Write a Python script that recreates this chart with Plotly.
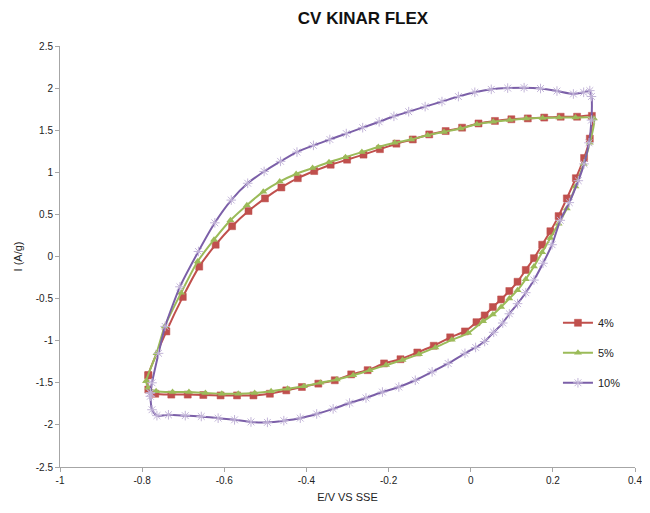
import plotly.graph_objects as go

# 4% series (E in V, I in A/g)
e_4 = [-0.785, -0.741, -0.701, -0.661, -0.621, -0.581, -0.541, -0.501, -0.461, -0.421,
       -0.381, -0.341, -0.301, -0.261, -0.221, -0.181, -0.141, -0.101, -0.061, -0.021,
       0.019, 0.059, 0.099, 0.139, 0.179, 0.219, 0.259, 0.295,
       0.29, 0.276, 0.256, 0.234, 0.214, 0.194, 0.174, 0.154, 0.134, 0.114, 0.094, 0.074,
       0.054, 0.034, 0.014, -0.014, -0.05, -0.09, -0.13, -0.171, -0.211, -0.251, -0.291,
       -0.331, -0.371, -0.411, -0.449, -0.489, -0.529, -0.569, -0.609, -0.651, -0.689,
       -0.729, -0.768, -0.785, -0.785]
i_4 = [-1.41, -0.89, -0.48, -0.12, 0.14, 0.36, 0.54, 0.69, 0.82, 0.93,
       1.015, 1.09, 1.15, 1.21, 1.275, 1.34, 1.39, 1.45, 1.49, 1.53,
       1.58, 1.61, 1.63, 1.64, 1.65, 1.66, 1.66, 1.67,
       1.40, 1.17, 0.93, 0.69, 0.48, 0.30, 0.14, -0.02, -0.16, -0.30, -0.41, -0.51,
       -0.60, -0.70, -0.78, -0.89, -0.96, -1.06, -1.14, -1.22, -1.27, -1.35, -1.40,
       -1.47, -1.51, -1.55, -1.59, -1.63, -1.65, -1.65, -1.65, -1.645, -1.64,
       -1.64, -1.63, -1.58, -1.41]

# 5% series
e_5 = [-0.79, -0.765, -0.745, -0.705, -0.665, -0.625, -0.585, -0.545, -0.505, -0.465,
       -0.425, -0.385, -0.345, -0.305, -0.265, -0.225, -0.185, -0.145, -0.105, -0.065,
       -0.025, 0.015, 0.055, 0.095, 0.135, 0.175, 0.215, 0.255, 0.3,
       0.29, 0.275, 0.255, 0.234, 0.214, 0.194, 0.174, 0.154, 0.134, 0.114, 0.094, 0.074,
       0.054, 0.03, -0.006, -0.046, -0.086, -0.126, -0.166, -0.206, -0.246, -0.286,
       -0.326, -0.366, -0.406, -0.446, -0.486, -0.526, -0.566, -0.606, -0.646, -0.686,
       -0.726, -0.766, -0.785, -0.79]
i_5 = [-1.48, -1.15, -0.83, -0.43, -0.06, 0.20, 0.43, 0.61, 0.77, 0.89,
       0.98, 1.05, 1.12, 1.18, 1.24, 1.30, 1.35, 1.39, 1.44, 1.48,
       1.52, 1.57, 1.60, 1.62, 1.64, 1.645, 1.65, 1.65, 1.64,
       1.35, 1.10, 0.83, 0.57, 0.39, 0.22, 0.05, -0.12, -0.27, -0.40, -0.50, -0.60,
       -0.69, -0.77, -0.91, -0.99, -1.08, -1.16, -1.23, -1.29, -1.35, -1.41,
       -1.46, -1.50, -1.54, -1.57, -1.60, -1.62, -1.63, -1.63, -1.62, -1.61,
       -1.61, -1.60, -1.56, -1.48]

# 10% series
e_10 = [-0.78, -0.776, -0.76, -0.744, -0.708, -0.663, -0.623, -0.583, -0.543, -0.503,
        -0.463, -0.423, -0.383, -0.343, -0.303, -0.263, -0.223, -0.187, -0.151, -0.111,
        -0.07, -0.03, 0.01, 0.05, 0.09, 0.13, 0.17, 0.21, 0.25, 0.275, 0.29, 0.294,
        0.294, 0.288, 0.276, 0.262, 0.24, 0.218, 0.198, 0.176, 0.154, 0.134, 0.114,
        0.094, 0.078, 0.056, 0.034, 0.012, -0.014, -0.055, -0.094, -0.135, -0.175,
        -0.215, -0.255, -0.295, -0.335, -0.375, -0.415, -0.455, -0.495, -0.535, -0.575,
        -0.615, -0.656, -0.695, -0.736, -0.764, -0.776, -0.78, -0.78]
i_10 = [-1.62, -1.50, -1.15, -0.83, -0.36, 0.06, 0.40, 0.67, 0.87, 1.01,
        1.13, 1.24, 1.32, 1.39, 1.46, 1.53, 1.60, 1.665, 1.72, 1.78,
        1.84, 1.90, 1.95, 1.985, 2.00, 2.005, 1.995, 1.965, 1.93, 1.95, 1.97, 1.90,
        1.62, 1.35, 1.10, 0.90, 0.64, 0.43, 0.14, -0.08, -0.28, -0.43, -0.56,
        -0.68, -0.79, -0.90, -1.01, -1.08, -1.15, -1.27, -1.37, -1.47, -1.55,
        -1.61, -1.68, -1.74, -1.81, -1.87, -1.92, -1.95, -1.97, -1.965, -1.94,
        -1.92, -1.90, -1.89, -1.88, -1.89, -1.82, -1.66, -1.62]

y_ticks = [-2.5, -2, -1.5, -1, -0.5, 0, 0.5, 1, 1.5, 2, 2.5]
y_ticktext = ["-2.5", "-2", "-1.5", "-1", "-0.5", "0", "0.5", "1", "1.5", "2", "2.5"]
x_ticks = [-1, -0.8, -0.6, -0.4, -0.2, 0, 0.2, 0.4]
x_ticktext = ["-1", "-0.8", "-0.6", "-0.4", "-0.2", "0", "0.2", "0.4"]

fig = go.Figure()
fig.add_trace(go.Scatter(
    x=e_4, y=i_4, name="4%", mode="lines+markers", legendgroup="a",
    line=dict(color="#C0504D", width=2, shape="spline", smoothing=0.6),
    marker=dict(symbol="square", size=7, color="#C0504D",
                line=dict(color="rgba(192,80,77,0.5)", width=1))))
fig.add_trace(go.Scatter(
    x=e_5, y=i_5, name="5%", mode="lines+markers", legendgroup="b",
    line=dict(color="#9BBB59", width=2, shape="spline", smoothing=0.6),
    marker=dict(symbol="triangle-up", size=7, color="#9BBB59")))
fig.add_trace(go.Scatter(
    x=e_10, y=i_10, name="10%", mode="lines+markers", legendgroup="c",
    line=dict(color="#7B5FA8", width=2, shape="spline", smoothing=0.6),
    marker=dict(symbol="asterisk-open", size=8, color="#C2B4D8",
                line=dict(color="#C2B4D8", width=1))))

fig.update_layout(
    width=642, height=505,
    margin=dict(l=52, r=8, t=38, b=46),
    paper_bgcolor="white", plot_bgcolor="white",
    font=dict(family="Liberation Sans, Arial, sans-serif", size=10, color="#222222"),
    title=dict(text="<b>CV KINAR FLEX</b>", x=(363 - 8) / 642, xanchor="center",
               y=1 - 10 / 505, yref="container", yanchor="middle",
               font=dict(size=17, color="#111111", family="Liberation Sans, Arial")),
    showlegend=True,
    legend=dict(x=0.866, xanchor="left", y=0.377, yanchor="top",
                font=dict(size=11, color="#222222"), tracegroupgap=11,
                bgcolor="rgba(0,0,0,0)", itemwidth=30),
    xaxis=dict(range=[-1, 0.4], tickvals=x_ticks, ticktext=x_ticktext,
               showgrid=False, zeroline=False, showline=True, linecolor="#A6A6A6",
               linewidth=1, ticks="outside", ticklen=4, tickcolor="#A6A6A6",
               title=dict(text="E/V VS SSE", font=dict(size=11), standoff=8)),
    yaxis=dict(range=[-2.5, 2.5], tickvals=y_ticks, ticktext=y_ticktext,
               showgrid=False, zeroline=False, showline=True, linecolor="#A6A6A6",
               linewidth=1, ticks="outside", ticklen=4, tickcolor="#A6A6A6",
               title=dict(text="I (A/g)", font=dict(size=11), standoff=10)),
)

fig.write_html("out.html")
